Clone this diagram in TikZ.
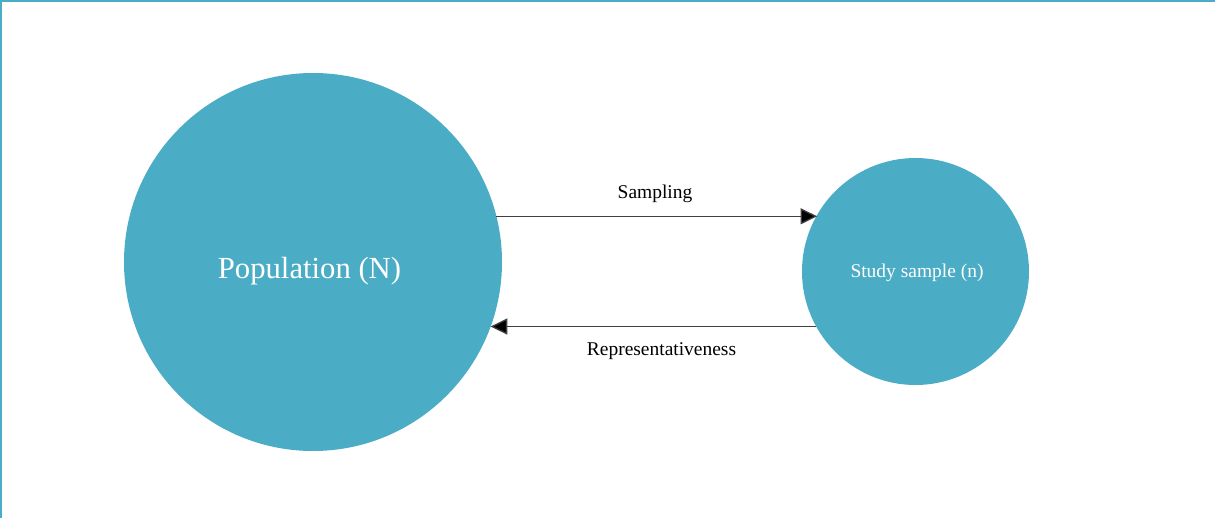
\documentclass[tikz,border=0pt]{standalone}
\usepackage{fontspec}
\setmainfont{Liberation Serif}
\usetikzlibrary{arrows.meta}
\definecolor{teal5}{HTML}{4BACC6}
\begin{document}
\begin{tikzpicture}[x=0.75pt,y=-0.75pt,
  bubble/.style={circle,fill=teal5,draw=none,inner sep=0pt,outer sep=0pt},
  flow/.style={draw=black!75,line width=1pt,-{Triangle[length=12.5pt,width=12pt,fill=black]}},
  lbl/.style={inner sep=0pt,anchor=base,font=\fontsize{14.6pt}{16pt}\selectfont}]
\useasboundingbox (0,0) rectangle (1215,518);
\draw[teal5,line width=1.5pt] (0,1) -- (1215,1);
\draw[teal5,line width=1.5pt] (1,0) -- (1,518);
\node[bubble,minimum size=283.5pt] (pop) at (313,262) {};
\node[bubble,minimum size=170.25pt] (smp) at (915.5,271.5) {};
\node[inner sep=0pt,anchor=base,text=white,font=\fontsize{23pt}{26pt}\selectfont] (popl) at (309.5,278) {Population (N)};
\node[inner sep=0pt,anchor=base,text=white,font=\fontsize{14.6pt}{16pt}\selectfont] (smpl) at (917,277) {Study sample (n)};
\draw[flow] (pop.14.4) -- (smp.150.15 |- pop.14.4);
\draw[flow] (smp.209.27) -- (pop.-20.11 |- smp.209.27);
\node[lbl] (samp) at (655,198) {Sampling};
\node[lbl] (rep) at (661.5,355) {Representativeness};
\end{tikzpicture}
\end{document}
